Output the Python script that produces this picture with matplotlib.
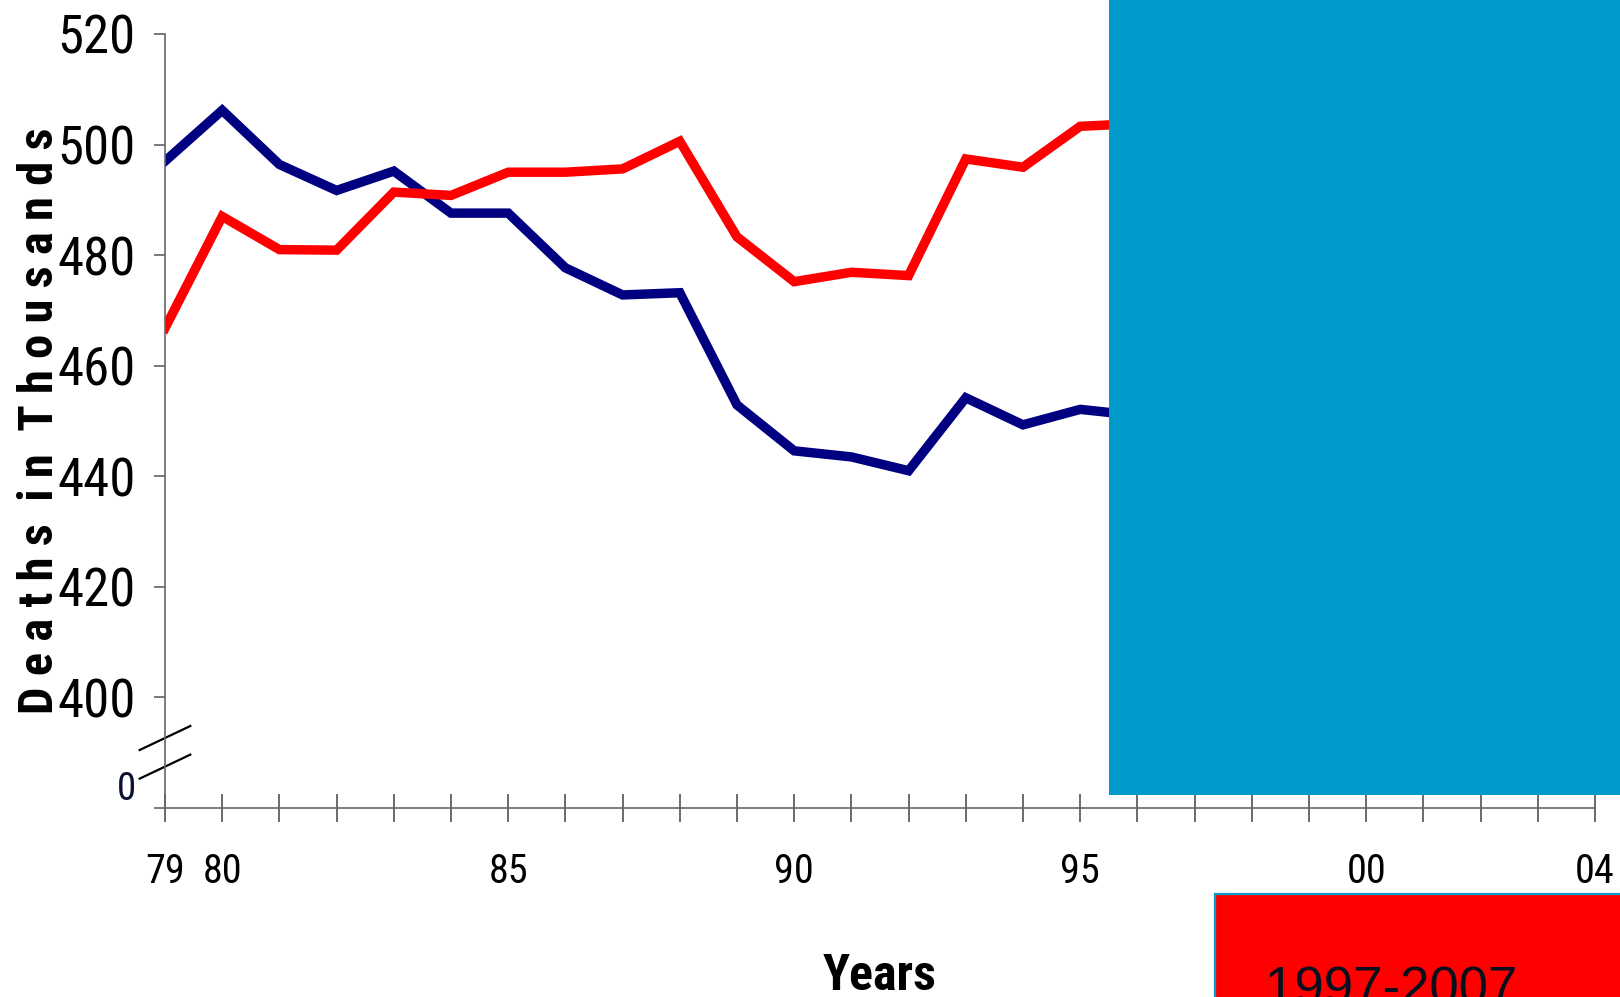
import numpy as np
import matplotlib.pyplot as plt
from matplotlib.patches import Rectangle

# deaths in thousands, by year
years = list(range(1979, 1997))
males = [497.0, 506.2, 496.4, 491.7, 495.2, 487.6, 487.6, 477.7, 472.8,
         473.2, 452.9, 444.6, 443.5, 441.0, 454.2, 449.3, 452.1, 451.0]
females = [466.8, 487.0, 481.0, 480.9, 491.4, 490.8, 495.0, 495.0, 495.6,
           500.6, 483.3, 475.2, 476.9, 476.3, 497.4, 495.9, 503.3, 503.8]

y_ticks = [380, 400, 420, 440, 460, 480, 500, 520]
y_labels = ['', '400', '420', '440', '460', '480', '500', '520']
x_ticks = list(range(1979, 2005))
x_labels = {1979: '79', 1980: '80', 1985: '85', 1990: '90',
            1995: '95', 2000: '00', 2004: '04'}
period_label = '1997-2007'

narrow = ['Roboto Condensed', 'DejaVu Sans']

fig = plt.figure(figsize=(16.2, 9.97), dpi=100)
ax = fig.add_axes([0.10185, 0.1896, 0.88272, 0.7763])

ax.plot(years, males, color='#000080', lw=6.8, solid_joinstyle='miter')
ax.plot(years, females, color='#ff0000', lw=6.8, solid_joinstyle='miter')

ax.set_xlim(1979, 2004)
ax.set_ylim(380, 520)

for side in ['top', 'right']:
    ax.spines[side].set_visible(False)
for side in ['left', 'bottom']:
    ax.spines[side].set_color('#666666')
    ax.spines[side].set_linewidth(1.2)

ax.set_yticks(y_ticks)
ax.set_yticklabels(y_labels, fontfamily=narrow, fontsize=38)
ax.set_xticks(x_ticks)
ax.set_xticklabels([x_labels.get(y, '') for y in x_ticks],
                   fontfamily=narrow, fontsize=29)
ax.tick_params(axis='y', direction='out', length=8, width=1.1,
               color='#555555', pad=13)
ax.tick_params(axis='x', direction='inout', length=19.5, width=1.1,
               color='#444444', pad=22)

# zero label under the axis break
ax.text(-0.0202, 0.0245, '0', transform=ax.transAxes, ha='right',
        va='center', fontfamily=narrow, fontsize=28, color='#0b1030')

# axis break marks
for yc in [0.0904, 0.0534]:
    ax.plot([-0.0177, 0.0177], [yc - 0.0155, yc + 0.0155], color='black',
            lw=1.6, transform=ax.transAxes, clip_on=False)

fig.text(40 / 1620, 576 / 997, 'D e a t h s  i n  T h o u s a n d s',
         rotation=90, ha='center', va='center', fontfamily=narrow,
         fontweight='bold', fontsize=35)
fig.text(880 / 1620, 7 / 997, 'Years', ha='center', va='baseline',
         fontfamily=narrow, fontweight='bold', fontsize=36)

# overlay boxes
fig.patches.append(Rectangle((0.6846, 0.2031), 0.32, 0.81,
                             transform=fig.transFigure, facecolor='#019bcb',
                             edgecolor='none', zorder=5))
fig.patches.append(Rectangle((0.7503, -0.01), 0.26, 0.1138,
                             transform=fig.transFigure, facecolor='#ff0000',
                             edgecolor='#0a9bd0', lw=1.6, zorder=5))
fig.text(1265 / 1620, -7 / 997, period_label, ha='left', va='baseline',
         fontfamily=['Liberation Sans', 'DejaVu Sans'], fontsize=38,
         color='#0a0f1e', zorder=6)

fig.savefig('out.png', dpi=100)
